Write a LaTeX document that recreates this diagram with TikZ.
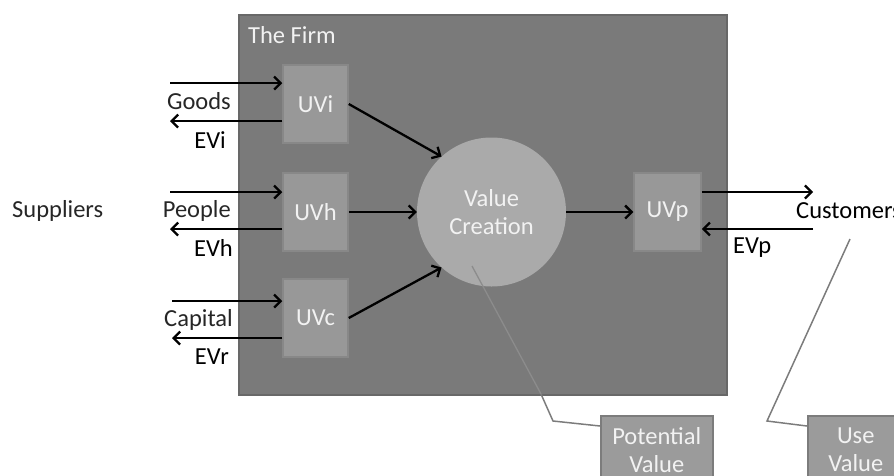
\documentclass[tikz,border=0pt]{standalone}
\usepackage{fontspec}
\setmainfont{Carlito}
\usetikzlibrary{arrows.meta}
\definecolor{firmfill}{HTML}{7A7A7A}
\definecolor{firmline}{HTML}{686868}
\definecolor{boxfill}{HTML}{989898}
\definecolor{boxline}{HTML}{888888}
\definecolor{circfill}{HTML}{AAAAAA}
\definecolor{calfill}{HTML}{9B9B9B}
\definecolor{calline}{HTML}{7C7C7C}
\definecolor{cllight}{HTML}{8C8C8C}
\definecolor{txtdark}{HTML}{262626}
\definecolor{txtlight}{HTML}{F2F2F2}
\tikzset{
  bigfont/.style={font=\fontsize{24.5}{28}\selectfont},
  uvbox/.style={draw=boxline, line width=1.5pt, fill=boxfill, minimum width=65pt, minimum height=78pt, inner sep=0pt, text=txtlight, bigfont},
  calbox/.style={draw=calline, line width=1.5pt, fill=calfill, anchor=north west, minimum width=112pt, minimum height=68pt, inner sep=0pt, text=txtlight, bigfont, align=center},
  lbl/.style={text=txtdark, bigfont, inner sep=0pt},
  arr/.style={line width=2.3pt, -{Straight Barb[length=6.5pt,width=13pt,line width=2.3pt]}},
  cline/.style={draw=calline, line width=1.5pt},
}
\begin{document}
\begin{tikzpicture}[x=1pt,y=-1pt]
\useasboundingbox (0,0) rectangle (894,475);
\begin{scope}
\clip (0,0) rectangle (894,475);
% firm
\node[draw=firmline, line width=1.8pt, fill=firmfill, anchor=north west, minimum width=488pt, minimum height=380pt, inner sep=0pt] (firm) at (238,14) {};
\node[anchor=west, text=txtlight, bigfont, inner sep=0pt] (firmlbl) at (248,35) {The Firm};
% circle
\node[circle, fill=circfill, minimum size=149pt, inner sep=0pt, text=txtlight, align=center, bigfont] (vc) at (491.5,212) {Value\\Creation};
% boxes
\node[uvbox] (uvi) at (315.5,104) {UVi};
\node[uvbox] (uvh) at (315.5,212) {UVh};
\node[uvbox] (uvc) at (315.5,318) {UVc};
\node[uvbox, minimum width=67pt] (uvp) at (667.5,212) {UVp};
% free ends
\coordinate (gi) at (170,83);
\coordinate (go) at (170,121);
\coordinate (pi) at (170,192);
\coordinate (po) at (170,229);
\coordinate (ci) at (172,301);
\coordinate (co) at (172,338);
\coordinate (cuo) at (813,192);
\coordinate (cui) at (813,229);
% labels
\node[lbl, anchor=east] (goods) at (231,101) {Goods};
\node[lbl, anchor=east, text=black] (evi) at (226,140) {EVi};
\node[lbl, anchor=east] (people) at (231,211) {People};
\node[lbl, anchor=east, text=black] (evh) at (233,248) {EVh};
\node[lbl, anchor=east] (capital) at (233,320) {Capital};
\node[lbl, anchor=east, text=black] (evr) at (229,357) {EVr};
\node[lbl, anchor=west, text=black] (evp) at (733,248) {EVp};
\node[lbl, anchor=west] (sup) at (12,211) {Suppliers};
\node[lbl, anchor=west, text=black] (cust) at (796,211) {Customers};
% arrows
\draw[arr] (gi) -- (gi -| uvi.west);
\draw[arr] (go -| uvi.west) -- (go);
\draw[arr] (pi) -- (pi -| uvh.west);
\draw[arr] (po -| uvh.west) -- (po);
\draw[arr] (ci) -- (ci -| uvc.west);
\draw[arr] (co -| uvc.west) -- (co);
\draw[arr] (uvi.east) -- (vc.132);
\draw[arr] (uvh.east) -- (vc.west);
\draw[arr] (uvc.east) -- (vc.228);
\draw[arr] (vc.east) -- (uvp.west);
\draw[arr] (cuo -| uvp.east) -- (cuo);
\draw[arr] (cui) -- (cui -| uvp.east);
% callouts
\node[calbox] (pv) at (600,415) {Potential\\Value};
\node[calbox, minimum width=96pt] (uv) at (807,415) {Use\\Value};
\coordinate (pvtip) at (472,266);
\coordinate (pvedge) at (541,394);
\coordinate (pvbend) at (553,421);
\coordinate (uvtip) at (850,239);
\coordinate (uvbend) at (767,421);
\draw[draw=cllight, line width=1.3pt] (pvtip) -- (pvedge);
\draw[cline] (pvedge) -- (pvbend) -- (pv.north west |- 0,426);
\draw[cline] (uvtip) -- (uvbend) -- (uv.north west |- 0,426);
\end{scope}
\end{tikzpicture}
\end{document}
